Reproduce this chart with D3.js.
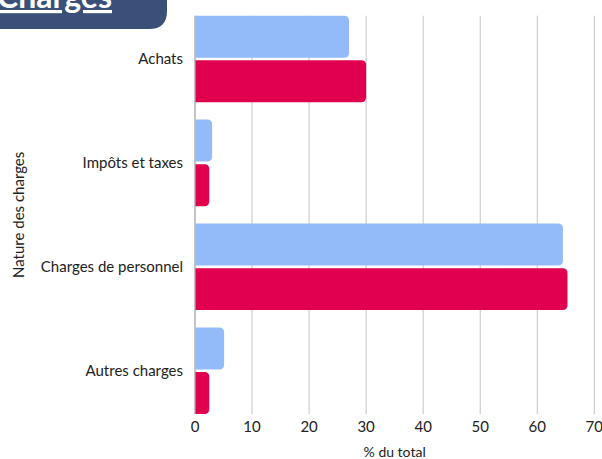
<!DOCTYPE html>
<html>
<head>
<meta charset="utf-8">
<script src="https://cdn.jsdelivr.net/npm/d3@7"></script>
<style>
  body { margin: 0; background: #fff; }
  svg { font-family: Lato, "Noto Sans", sans-serif; }
</style>
</head>
<body>
<div id="chart"></div>
<script>
var w = 602,
	h = 459;

// data
var categories = ["Achats", "Impôts et taxes", "Charges de personnel", "Autres charges"];
var seriesNames = ["Série 1", "Série 2"];
var serie1 = [27, 3, 64.5, 5.1];
var serie2 = [30, 2.5, 65.3, 2.5];
var xTicks = [0, 10, 20, 30, 40, 50, 60, 70];

var colors = ["#93bbfa", "#e0004f"];

var margin = {top: 15.7, right: 8, bottom: 45, left: 195};

var svg = d3.select("#chart").append("svg")
	.attr("width", w)
	.attr("height", h);

var x = d3.scaleLinear().domain([0, 70]).range([margin.left, 594.3]);
var y = d3.scaleBand().domain(categories).range([margin.top, 414]).paddingInner(0.167).paddingOuter(0);
var ySub = d3.scaleBand().domain(seriesNames).range([0, y.bandwidth()]).paddingInner(0.06);

// gridlines
svg.append("g")
	.selectAll("line")
	.data(xTicks)
	.enter()
	.append("line")
	.attr("x1", d => x(d))
	.attr("x2", d => x(d))
	.attr("y1", margin.top)
	.attr("y2", 414)
	.attr("stroke", d => d == 0 ? "#888" : "#c4c4c4")
	.attr("stroke-width", 1);

// bars with rounded right end
function barPath(x0, x1, y0, hh, r) {
	r = Math.min(r, (x1 - x0), hh / 2);
	return "M" + x0 + "," + y0 +
		"H" + (x1 - r) +
		"Q" + x1 + "," + y0 + " " + x1 + "," + (y0 + r) +
		"V" + (y0 + hh - r) +
		"Q" + x1 + "," + (y0 + hh) + " " + (x1 - r) + "," + (y0 + hh) +
		"H" + x0 + "Z";
}

var rows = categories.map((c, i) => ({cat: c, vals: [serie1[i], serie2[i]]}));

var groups = svg.append("g")
	.selectAll("g")
	.data(rows)
	.enter()
	.append("g")
	.attr("transform", d => "translate(0," + y(d.cat) + ")");

groups.selectAll("path")
	.data(d => d.vals.map((v, j) => ({name: seriesNames[j], v: v, j: j})))
	.enter()
	.append("path")
	.attr("d", d => barPath(x(0) + 0.5, x(d.v), ySub(d.name), ySub.bandwidth(), 5))
	.attr("fill", d => colors[d.j]);

// category labels
svg.append("g")
	.selectAll("text")
	.data(categories)
	.enter()
	.append("text")
	.attr("x", 183)
	.attr("y", d => y(d) + y.bandwidth() / 2)
	.attr("dy", "0.35em")
	.attr("text-anchor", "end")
	.attr("font-size", "15px")
	.attr("fill", "#222")
	.text(d => d);

// x tick labels
svg.append("g")
	.selectAll("text")
	.data(xTicks)
	.enter()
	.append("text")
	.attr("x", d => x(d))
	.attr("y", 427)
	.attr("dy", "0.35em")
	.attr("text-anchor", "middle")
	.attr("font-size", "15px")
	.attr("fill", "#222")
	.text(d => d);

// axis titles
svg.append("text")
	.attr("x", x(35))
	.attr("y", 452)
	.attr("dy", "0.35em")
	.attr("text-anchor", "middle")
	.attr("font-size", "14px")
	.attr("fill", "#222")
	.text("% du total");

svg.append("text")
	.attr("transform", "translate(19," + ((margin.top + 414) / 2) + ") rotate(-90)")
	.attr("dy", "0.35em")
	.attr("text-anchor", "middle")
	.attr("font-size", "15px")
	.attr("fill", "#222")
	.text("Nature des charges");

// title banner (cut off at the top, as in the original)
svg.append("path")
	.attr("d", barPath(0, 167, -30, 59, 18))
	.attr("fill", "#3a5078");

svg.append("text")
	.attr("x", -3)
	.attr("y", 8)
	.attr("font-size", "32px")
	.attr("font-weight", "bold")
	.attr("fill", "#fff")
	.attr("text-decoration", "underline")
	.text("Charges");
</script>
</body>
</html>
